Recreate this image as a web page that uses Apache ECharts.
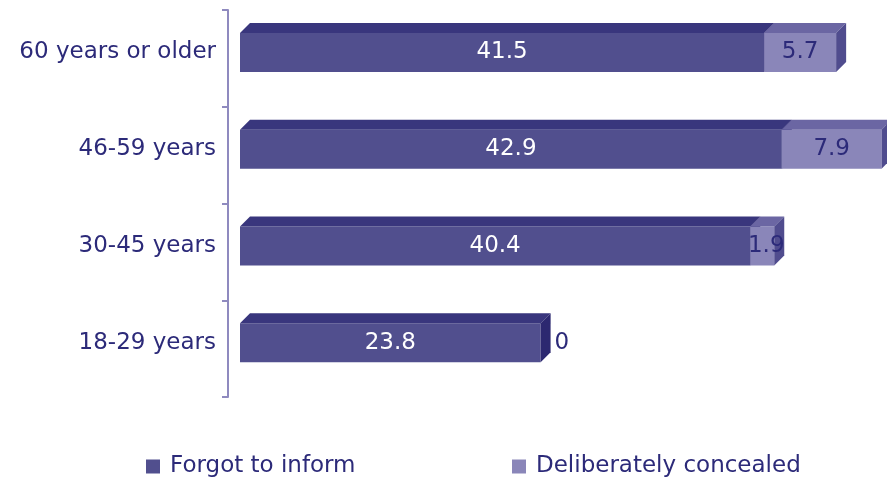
<!DOCTYPE html>
<html>
<head>
<meta charset="utf-8">
<script src="https://cdn.jsdelivr.net/npm/echarts@6/dist/echarts.min.js"></script>
<style>
  html, body { margin: 0; padding: 0; background: #ffffff; }
  #chart { width: 887px; height: 480px; }
</style>
</head>
<body>
<div id="chart"></div>
<script>
// Age groups, bottom to top on the category axis
const categories = ['18-29 years', '30-45 years', '46-59 years', '60 years or older'];
const forgotToInform = [23.8, 40.4, 42.9, 41.5];
const deliberatelyConcealed = [0, 1.9, 7.9, 5.7];
const seriesNames = ['Forgot to inform', 'Deliberately concealed'];

const FONT = 'DejaVu Sans';
const FONT_SIZE = 23;
const NAVY = '#2c2a79';
const AXIS = '#8f8abf';

// Face colours for each segment: front, top, side
const palette = [
  { front: '#514f8e', top: '#39367d', side: '#2c2870', text: '#ffffff' },
  { front: '#8a86b9', top: '#6b66a3', side: '#504c8e', text: NAVY }
];

const DEPTH = 10;      // extrusion of the pseudo-3D box
const FACE_H = 39;     // front face height
const SHIFT = -6;      // front face sits slightly above band centre

function makeRenderer(idx) {
  const col = palette[idx];
  const font = FONT_SIZE + 'px "' + FONT + '"';
  return function (params, api) {
    const end = api.value(0);
    const cat = api.value(1);
    const start = api.value(2);
    const v = api.value(3);
    const p0 = api.coord([start, cat]);
    const p1 = api.coord([end, cat]);
    const cy = p0[1] + SHIFT;
    const top = cy - FACE_H / 2;
    const bottom = cy + FACE_H / 2;
    const x0 = p0[0], x1 = p1[0], d = DEPTH;
    const children = [];
    if (v > 0) {
      children.push({
        type: 'rect',
        shape: { x: x0, y: top, width: x1 - x0, height: FACE_H },
        style: { fill: col.front }
      });
      children.push({
        type: 'polygon',
        shape: { points: [[x0, top], [x0 + d, top - d], [x1 + d, top - d], [x1, top]] },
        style: { fill: col.top }
      });
      children.push({
        type: 'polygon',
        shape: { points: [[x1, top], [x1 + d, top - d], [x1 + d, bottom - d], [x1, bottom]] },
        style: { fill: col.side }
      });
      children.push({
        type: 'text',
        style: {
          text: String(v), x: (x0 + x1) / 2 + (x1 - x0 < 40 ? 4 : 0), y: cy,
          align: 'center', verticalAlign: 'middle',
          fill: col.text, font: font
        }
      });
    } else {
      children.push({
        type: 'text',
        style: {
          text: String(v), x: x1 + d + 4, y: cy,
          align: 'left', verticalAlign: 'middle',
          fill: NAVY, font: font
        }
      });
    }
    return { type: 'group', children: children };
  };
}

const dataForgot = forgotToInform.map((v, i) => [v, i, 0, v]);
const dataConcealed = deliberatelyConcealed.map((v, i) => [forgotToInform[i] + v, i, forgotToInform[i], v]);

const legendText = { fontSize: FONT_SIZE, fontFamily: FONT, color: NAVY, padding: [0, 0, 0, 5] };

const chart = echarts.init(document.getElementById('chart'), null, { renderer: 'canvas' });
chart.setOption({
  animation: false,
  backgroundColor: '#ffffff',
  grid: { left: 240, top: 10, height: 387, width: 631.5 },
  xAxis: { type: 'value', min: 0, max: 50, show: false },
  yAxis: {
    type: 'category',
    data: categories,
    offset: 12,
    axisLine: { onZero: false, lineStyle: { color: AXIS, width: 2 } },
    axisTick: { show: true, length: 6, lineStyle: { color: AXIS, width: 2 } },
    axisLabel: {
      fontSize: FONT_SIZE, fontFamily: FONT, color: NAVY, margin: 12,
      lineHeight: 12,
      // trailing blank line lifts the label to the front face centre
      formatter: function (val) { return val + '\n'; }
    }
  },
  legend: [
    {
      left: 141, top: 450, itemWidth: 14, itemHeight: 14,
      data: [{ name: seriesNames[0], icon: 'rect', itemStyle: { color: palette[0].front } }],
      textStyle: legendText
    },
    {
      left: 507, top: 450, itemWidth: 14, itemHeight: 14,
      data: [{ name: seriesNames[1], icon: 'rect', itemStyle: { color: palette[1].front } }],
      textStyle: legendText
    }
  ],
  series: [
    {
      name: seriesNames[0], type: 'custom', clip: false,
      itemStyle: { color: palette[0].front },
      encode: { x: 0, y: 1 },
      renderItem: makeRenderer(0),
      data: dataForgot
    },
    {
      name: seriesNames[1], type: 'custom', clip: false,
      itemStyle: { color: palette[1].front },
      encode: { x: 0, y: 1 },
      renderItem: makeRenderer(1),
      data: dataConcealed
    }
  ]
});
</script>
</body>
</html>
